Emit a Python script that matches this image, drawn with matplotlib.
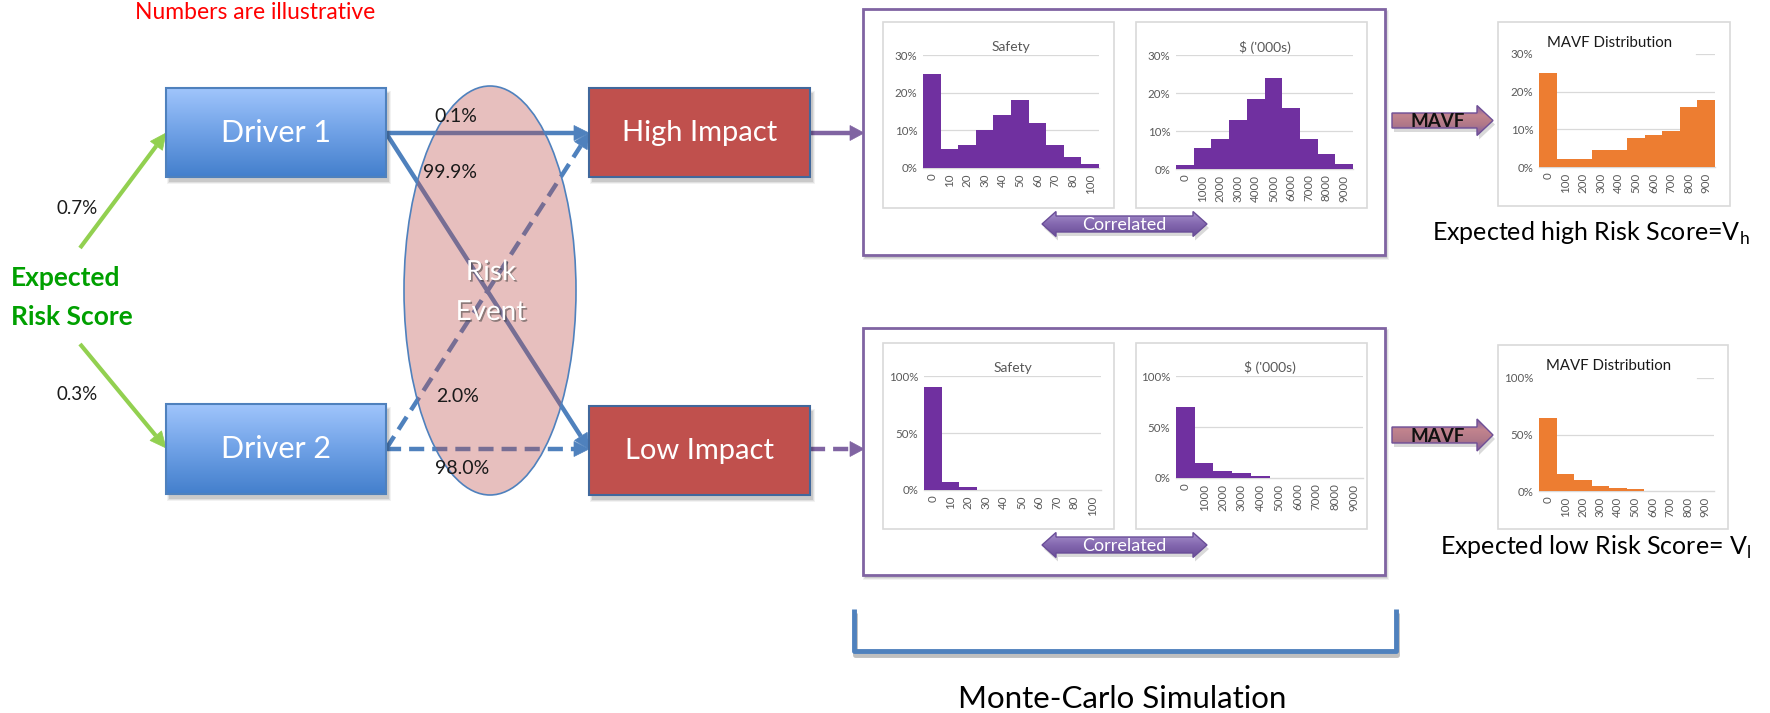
import numpy as np
import matplotlib
matplotlib.use("Agg")
import matplotlib.pyplot as plt
from matplotlib.patches import Rectangle, Ellipse, Polygon
from matplotlib.colors import LinearSegmentedColormap
import matplotlib.patheffects as pe

plt.rcParams["font.family"] = ["Lato", "DejaVu Sans"]

W, H = 1770, 713

# ---------- data -------------------------------------------------------------
safety_bins = ["0", "10", "20", "30", "40", "50", "60", "70", "80", "100"]
dollar_bins = ["0", "1000", "2000", "3000", "4000", "5000", "6000", "7000", "8000", "9000"]
mavf_bins = ["0", "100", "200", "300", "400", "500", "600", "700", "800", "900"]

high_safety = [25, 5, 6, 10, 14, 18, 12, 6, 3, 1]
high_dollar = [1, 5.5, 8, 13, 18.5, 24, 16, 8, 4, 1.2]
high_mavf = [25, 2, 2, 4.5, 4.6, 7.6, 8.5, 9.5, 15.8, 17.8]

low_safety = [90, 7, 2.3, 0, 0, 0, 0, 0, 0, 0]
low_dollar = [70, 15, 7, 4.5, 2, 0, 0, 0, 0, 0]
low_mavf = [65, 15, 9.5, 4, 2.3, 1.5, 0, 0, 0, 0]

driver_probs = ["0.7%", "0.3%"]
branch_probs = ["0.1%", "99.9%", "2.0%", "98.0%"]

BLUE = "#4F81BD"
GREEN = "#92D050"
PURPLE = "#8064A2"
BAR_PURPLE = "#7030A0"
ORANGE = "#ED7D31"
GRID = "#D9D9D9"
TICK = "#595959"

# ---------- helpers ----------------------------------------------------------

def drop_shadow(ax, x0, y0, x1, y1, dx=3, dy=5, z=1):
    for k, a in enumerate([0.10, 0.07, 0.05]):
        ax.add_patch(Rectangle((x0 + dx - k, y0 + dy - k), x1 - x0 + 2 * k, y1 - y0 + 2 * k,
                               fc="black", ec="none", alpha=a, zorder=z))

def grad_fill(ax, patch, bounds, colors, z):
    x0, y0, x1, y1 = bounds
    cmap = LinearSegmentedColormap.from_list("g", colors)
    img = ax.imshow(np.linspace(0, 1, 256).reshape(-1, 1), cmap=cmap, aspect="auto",
                    extent=(x0, x1, y1, y0), origin="upper", zorder=z,
                    interpolation="bilinear")
    img.set_clip_path(patch)

def box(ax, x0, y0, x1, y1, label, colors=None, face=None, edge=BLUE, size=22):
    drop_shadow(ax, x0, y0, x1, y1, z=3)
    rect = Rectangle((x0, y0), x1 - x0, y1 - y0, fc=face if face else "none",
                     ec=edge, lw=1.5, zorder=5)
    ax.add_patch(rect)
    if colors:
        grad_fill(ax, rect, (x0, y0, x1, y1), colors, 4)
    ax.text((x0 + x1) / 2, (y0 + y1) / 2, label, color="white", fontsize=size,
            ha="center", va="center", zorder=6)

def head(ax, p0, p1, color, length=15, width=15, z=4):
    p0, p1 = np.array(p0, float), np.array(p1, float)
    d = (p1 - p0) / np.hypot(*(p1 - p0))
    n = np.array([-d[1], d[0]])
    base = p1 - d * length
    ax.add_patch(Polygon([p1, base + n * width / 2, base - n * width / 2],
                         closed=True, fc=color, ec=color, lw=0.5, zorder=z))
    return base

def arrow_line(ax, p0, p1, color, dashed=False, lw=3.2, z=2, hl=15, hw=15):
    base = head(ax, p0, p1, color, hl, hw, z)
    ls = (0, (3.4, 1.8)) if dashed else "-"
    ax.plot([p0[0], base[0]], [p0[1], base[1]], color=color, lw=lw, ls=ls,
            solid_capstyle="butt", dash_capstyle="butt", zorder=z)

def block_arrow(ax, x0, x1, yc, bh, hh, hl, colors, edge, double=False, z=5):
    if double:
        pts = [(x0, yc), (x0 + hl, yc - hh), (x0 + hl, yc - bh), (x1 - hl, yc - bh),
               (x1 - hl, yc - hh), (x1, yc), (x1 - hl, yc + hh), (x1 - hl, yc + bh),
               (x0 + hl, yc + bh), (x0 + hl, yc + hh)]
    else:
        pts = [(x0, yc - bh), (x1 - hl, yc - bh), (x1 - hl, yc - hh), (x1, yc),
               (x1 - hl, yc + hh), (x1 - hl, yc + bh), (x0, yc + bh)]
    sh = Polygon([(x + 2, y + 4) for x, y in pts], closed=True, fc="black", ec="none",
                 alpha=0.15, zorder=z - 2)
    ax.add_patch(sh)
    poly = Polygon(pts, closed=True, fc="none", ec=edge, lw=1, zorder=z)
    ax.add_patch(poly)
    grad_fill(ax, poly, (x0, yc - hh, x1, yc + hh), colors, z - 1)

def hist_panel(fig, ax, frame, plot, values, bins, ymax, yticks, color, title,
               title_y, title_color, gap_top=None, title_size=10):
    fx0, fy0, fx1, fy1 = frame
    ax.add_patch(Rectangle((fx0, fy0), fx1 - fx0, fy1 - fy0, fc="white", ec=GRID,
                           lw=1.2, zorder=6))
    ax.text((plot[0] + plot[2]) / 2 if gap_top is None else (fx0 + fx1) / 2 - 4,
            title_y, title, fontsize=title_size, color=title_color, ha="center",
            va="center", zorder=7)
    x0, y0, x1, y1 = plot
    h = fig.add_axes([x0 / W, 1 - y1 / H, (x1 - x0) / W, (y1 - y0) / H])
    h.set_facecolor("none")
    h.bar(range(len(values)), values, width=1.0, color=color, zorder=3)
    h.set_xlim(-0.5, len(values) - 0.5)
    h.set_ylim(0, ymax)
    h.set_yticks(yticks)
    h.set_yticklabels([f"{t}%" for t in yticks])
    h.set_xticks(range(len(bins)))
    h.set_xticklabels(bins, rotation=90)
    for t in yticks[1:]:
        if gap_top is not None and t == yticks[-1]:
            h.axhline(t, xmin=gap_top, xmax=1, color=GRID, lw=0.9, zorder=1)
        else:
            h.axhline(t, color=GRID, lw=0.9, zorder=1)
    for s in ["top", "right", "left"]:
        h.spines[s].set_visible(False)
    h.spines["bottom"].set_color(GRID)
    h.spines["bottom"].set_linewidth(1.0)
    h.tick_params(length=0, labelsize=8.3, colors=TICK, pad=4)
    return h

# ---------- figure -----------------------------------------------------------
fig = plt.figure(figsize=(W / 100, H / 100), dpi=100)
ax = fig.add_axes([0, 0, 1, 1])
ax.axis("off")

ax.text(255, 19, "Numbers are illustrative", color="red", fontsize=16.5,
        ha="center", va="baseline")

# expected risk score + green arrows
ax.text(11, 278, "Expected", color="#00A000", fontsize=19, fontweight="bold",
        ha="left", va="center")
ax.text(11, 317, "Risk Score", color="#00A000", fontsize=19, fontweight="bold",
        ha="left", va="center")
arrow_line(ax, (80, 248), (166, 133), GREEN, lw=3, hl=16, hw=15)
arrow_line(ax, (80, 344), (166, 448), GREEN, lw=3, hl=16, hw=15)
ax.text(77, 208, driver_probs[0], fontsize=13.5, ha="center", va="center", color="#1a1a1a")
ax.text(77, 395, driver_probs[1], fontsize=13.5, ha="center", va="center", color="#1a1a1a")

# branches from the drivers to the impact boxes
arrow_line(ax, (386, 133), (589, 133), BLUE)
arrow_line(ax, (386, 133), (589, 449), BLUE)
arrow_line(ax, (386, 449), (589, 133), BLUE, dashed=True)
arrow_line(ax, (386, 449), (589, 449), BLUE, dashed=True)

# risk event ellipse sits over the branch lines
ax.add_patch(Ellipse((490, 290.5), 172, 409, fc=(0.75, 0.31, 0.30, 0.36), ec="none", zorder=3))
ax.add_patch(Ellipse((490, 290.5), 172, 409, fc="none", ec=BLUE, lw=1.2, zorder=3))
shadow = [pe.withSimplePatchShadow(offset=(1.2, -1.2), shadow_rgbFace="#404040", alpha=0.55)]
ax.text(491, 272, "Risk", color="white", fontsize=20, ha="center", va="center",
        zorder=6, path_effects=shadow)
ax.text(491, 312, "Event", color="white", fontsize=20, ha="center", va="center",
        zorder=6, path_effects=shadow)

for (x, y), s in zip([(456, 117), (450, 173), (458, 397), (462, 469)], branch_probs):
    ax.text(x, y, s, fontsize=14, ha="center", va="center", color="#1a1a1a", zorder=6)

driver_grad = ["#A0C5FC", "#6FA1E6", "#437FCC"]
box(ax, 166, 88, 386, 177, "Driver 1", colors=driver_grad)
box(ax, 166, 404, 386, 494, "Driver 2", colors=driver_grad)
box(ax, 589, 88, 810, 177, "High Impact", face="#C0504D", edge="#41689C", size=21)
box(ax, 589, 406, 810, 495, "Low Impact", face="#C0504D", edge="#41689C", size=21)

# impact -> simulation
arrow_line(ax, (810, 133), (864, 133), PURPLE, hl=14, hw=15)
arrow_line(ax, (810, 449), (864, 449), PURPLE, dashed=True, hl=14, hw=15)

# Monte-Carlo panels
for y0, y1 in [(9, 255), (328, 575)]:
    drop_shadow(ax, 863, y0, 1385, y1, dx=2, dy=3, z=3)
    ax.add_patch(Rectangle((863, y0), 1385 - 863, y1 - y0, fc="white", ec=PURPLE,
                           lw=2, zorder=5))

hist_panel(fig, ax, (883, 22, 1114, 208), (923, 55, 1099, 168), high_safety, safety_bins,
           30, [0, 10, 20, 30], BAR_PURPLE, "Safety", 47, TICK)
hist_panel(fig, ax, (1136, 22, 1367, 208), (1176, 55, 1353, 169), high_dollar, dollar_bins,
           30, [0, 10, 20, 30], BAR_PURPLE, "$ ('000s)", 47, TICK)
hist_panel(fig, ax, (883, 343, 1114, 529), (924, 376, 1101, 490), low_safety, safety_bins,
           100, [0, 50, 100], BAR_PURPLE, "Safety", 368, TICK)
hist_panel(fig, ax, (1136, 343, 1367, 529), (1176, 376, 1363, 478), low_dollar, dollar_bins,
           100, [0, 50, 100], BAR_PURPLE, "$ ('000s)", 368, TICK)

corr_grad = ["#A993CE", "#8569B0", "#6A4E98"]
for yc in [224, 545]:
    block_arrow(ax, 1042, 1207, yc, 8, 12.5, 14, corr_grad, "#6A4E98", double=True, z=7)
    ax.text(1124.5, yc + 1, "Correlated", color="white", fontsize=13,
            ha="center", va="center", zorder=8)

# MAVF step and resulting distributions
mavf_grad = ["#7C5CA8", "#C2848E", "#B07888", "#7A5AA4"]
for yc, bh, hh in [(120.5, 7.5, 15), (435, 8, 16)]:
    block_arrow(ax, 1392, 1493, yc, bh, hh, 16, mavf_grad, "#6E4F96", z=7)
    ax.text(1438, yc + 1, "MAVF", color="#111111", fontsize=13.5, fontweight="bold",
            ha="center", va="center", zorder=8)

hist_panel(fig, ax, (1498, 22, 1730, 206), (1539, 54, 1715, 167), high_mavf, mavf_bins,
           30, [0, 10, 20, 30], ORANGE, "MAVF Distribution", 43, "#1a1a1a",
           gap_top=0.89, title_size=10.8)
hist_panel(fig, ax, (1498, 345, 1728, 529), (1539, 378, 1714, 491), low_mavf, mavf_bins,
           100, [0, 50, 100], ORANGE, "MAVF Distribution", 366, "#1a1a1a",
           gap_top=0.9, title_size=10.8)

ax.text(1432, 233, "Expected high Risk Score=V$_\\mathregular{h}$", fontsize=18,
        ha="left", va="center", color="black")
ax.text(1440, 547, "Expected low Risk Score= V$_\\mathregular{l}$", fontsize=18,
        ha="left", va="center", color="black")

# bracket under the simulation panels
ax.plot([854, 854, 1396, 1396], [609, 651, 651, 609], color=BLUE, lw=3.5,
        solid_joinstyle="round", solid_capstyle="butt", zorder=4,
        path_effects=[pe.SimpleLineShadow(offset=(1, -3), alpha=0.25), pe.Normal()])
ax.text(1122, 699, "Monte-Carlo Simulation", fontsize=22.5, ha="center", va="center",
        color="black")

ax.set_xlim(0, W)
ax.set_ylim(H, 0)
fig.savefig("out.png", dpi=100)
